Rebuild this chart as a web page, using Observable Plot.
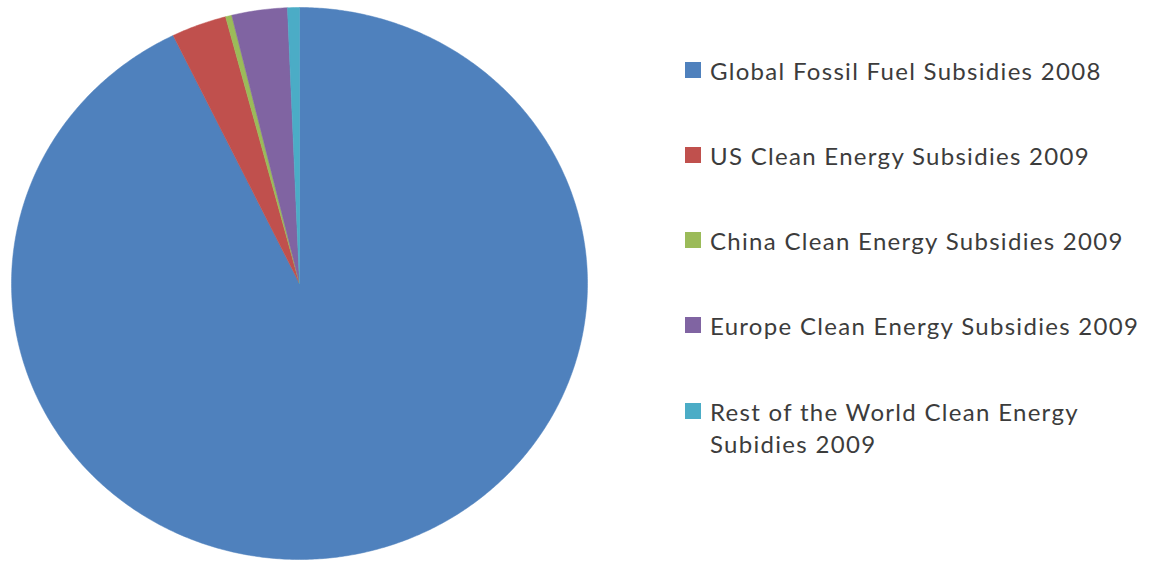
<!DOCTYPE html>
<html>
<head>
<meta charset="utf-8">
<script src="https://cdn.jsdelivr.net/npm/d3@7"></script>
<script src="https://cdn.jsdelivr.net/npm/@observablehq/plot@0.6"></script>
<style>
  html, body { margin: 0; padding: 0; background: #fff; }
  #wrap { position: relative; width: 1151px; height: 562px; overflow: hidden; }
  #legend { position: absolute; left: 685px; top: 55px; font-family: Lato, "Open Sans", sans-serif; font-size: 24px; letter-spacing: 1.3px; color: #3c3c3c; }
  .item { position: absolute; left: 0; white-space: pre; display: flex; align-items: flex-start; line-height: 32px; }
  .sw { width: 16px; height: 16px; margin-top: 7px; margin-right: 9px; flex: none; }
</style>
</head>
<body>
<div id="wrap"><div id="chart"></div><div id="legend"></div></div>
<script>
const categories = [
  "Global Fossil Fuel Subsidies 2008",
  "US Clean Energy Subsidies 2009",
  "China Clean Energy Subsidies 2009",
  "Europe Clean Energy Subsidies 2009",
  "Rest of the World Clean Energy\nSubidies 2009"
];
const values = [557, 18.6, 2.1, 18.7, 4.0]; // billion USD (estimated)
const colors = ["#4F81BD", "#C0504D", "#9BBB59", "#8064A2", "#4BACC6"];

const data = categories.map((c, i) => ({category: c, value: values[i]}));
const arcs = d3.pie().sort(null).value(d => d.value)(data);

// Build polygon outlines for each slice (center + arc samples)
const pts = [];
arcs.forEach(a => {
  const n = Math.max(2, Math.ceil((a.endAngle - a.startAngle) / (Math.PI / 360)));
  pts.push({category: a.data.category, x: 0, y: 0});
  for (let k = 0; k <= n; k++) {
    const t = a.startAngle + (a.endAngle - a.startAngle) * k / n;
    pts.push({category: a.data.category, x: Math.sin(t), y: Math.cos(t)});
  }
  pts.push({category: a.data.category, x: 0, y: 0});
});

const chart = Plot.plot({
  width: 1151,
  height: 562,
  marginLeft: 11,
  marginRight: 564,
  marginTop: 7,
  marginBottom: 3,
  x: {domain: [-1, 1], axis: null},
  y: {domain: [-1, 1], axis: null},
  color: {domain: categories, range: colors},
  marks: [
    Plot.line(pts, {x: "x", y: "y", z: "category", fill: "category", stroke: "category", strokeWidth: 0.5, curve: "linear"})
  ]
});
document.getElementById("chart").appendChild(chart);

const legend = document.getElementById("legend");
const rowTops = [0, 85, 170, 255, 341];
categories.forEach((c, i) => {
  const item = document.createElement("div");
  item.className = "item";
  item.style.top = rowTops[i] + "px";
  const sw = document.createElement("div");
  sw.className = "sw";
  sw.style.background = colors[i];
  const tx = document.createElement("div");
  tx.textContent = c;
  item.appendChild(sw);
  item.appendChild(tx);
  legend.appendChild(item);
});
</script>
</body>
</html>
